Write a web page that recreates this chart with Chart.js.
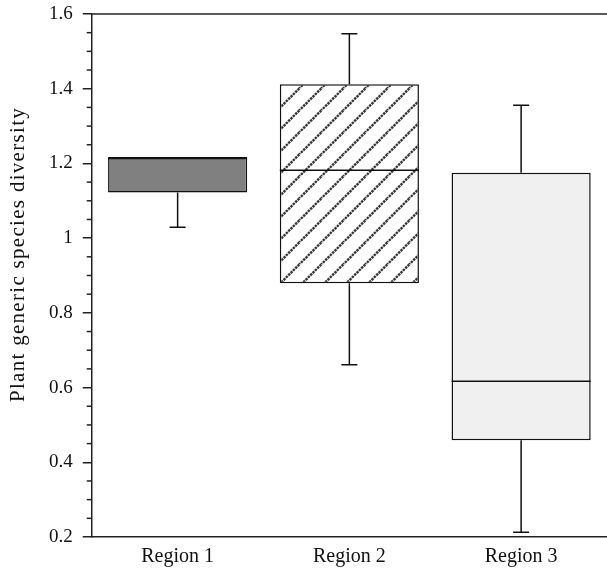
<!DOCTYPE html>
<html>
<head>
<meta charset="utf-8">
<script src="https://cdn.jsdelivr.net/npm/chart.js@4.4.1/dist/chart.umd.min.js"></script>
<style>
  html, body { margin: 0; padding: 0; background: #fff; }
  #wrap { width: 607px; height: 571px; }
</style>
</head>
<body>
<div id="wrap"><canvas id="chart1"></canvas></div>
<script>
(function() {

  // box plot values
  const regions = ['Region 1', 'Region 2', 'Region 3']
  const whiskerLow = [1.029, 0.661, 0.213]
  const q1 = [1.122, 0.879, 0.459]
  const median = [1.213, 1.182, 0.617]
  const q3 = [1.217, 1.412, 1.175]
  const whiskerHigh = [1.217, 1.547, 1.356]

  const yMin = 0.2, yMax = 1.6, yStep = 0.2, yMinor = 0.05
  const yTitle = 'Plant generic species diversity'
  const serif = '"Liberation Serif", "DejaVu Serif", serif'

  // diagonal hatch for the middle box
  const P = 22
  const tile = document.createElement('canvas')
  tile.width = P
  tile.height = P
  const tc = tile.getContext('2d')
  tc.fillStyle = '#fff'
  tc.fillRect(0, 0, P, P)
  tc.strokeStyle = '#363636'
  tc.lineWidth = 2.4
  tc.setLineDash([2.5, 0.8])
  tc.beginPath()
  ;[13.7 - P, 13.7, 13.7 + P].forEach(c => {
    tc.moveTo(c + 30, -30)
    tc.lineTo(-30, c + 30)
  })
  tc.stroke()
  const hatch = tc.createPattern(tile, 'repeat')

  const boxes = regions.map((r, i) => [q1[i], q3[i]])

  const boxPlotExtras = {
    id: 'boxPlotExtras',
    afterDatasetsDraw(chart) {
      const ctx = chart.ctx
      const y = chart.scales.y
      const meta = chart.getDatasetMeta(0)
      ctx.save()
      ctx.strokeStyle = '#111'
      ctx.lineWidth = 1.5
      meta.data.forEach((bar, i) => {
        const x = bar.x
        const half = bar.width / 2
        // median
        ctx.beginPath()
        ctx.moveTo(x - half, y.getPixelForValue(median[i]))
        ctx.lineTo(x + half, y.getPixelForValue(median[i]))
        ctx.stroke()
        // whiskers
        const pairs = [[q1[i], whiskerLow[i]], [q3[i], whiskerHigh[i]]]
        pairs.forEach(p => {
          if (p[0] === p[1]) return
          const a = y.getPixelForValue(p[0])
          const b = y.getPixelForValue(p[1])
          ctx.beginPath()
          ctx.moveTo(x, a)
          ctx.lineTo(x, b)
          ctx.moveTo(x - 8, b)
          ctx.lineTo(x + 8, b)
          ctx.stroke()
        })
      })
      ctx.restore()
    },
    afterDraw(chart) {
      const ctx = chart.ctx
      const area = chart.chartArea
      const y = chart.scales.y
      ctx.save()
      ctx.strokeStyle = '#222'
      ctx.lineWidth = 1.5
      // top frame line
      ctx.beginPath()
      ctx.moveTo(area.left, area.top)
      ctx.lineTo(area.right, area.top)
      ctx.stroke()
      // minor ticks
      for (let v = yMin + yMinor; v < yMax - 1e-6; v += yMinor) {
        const k = Math.round(v / yMinor)
        if (k % 4 === 0) continue
        const py = y.getPixelForValue(v)
        ctx.beginPath()
        ctx.moveTo(area.left - 5, py)
        ctx.lineTo(area.left, py)
        ctx.stroke()
      }
      // y axis title
      ctx.fillStyle = '#111'
      ctx.font = '21px ' + serif
      ctx.letterSpacing = '1.3px'
      ctx.textAlign = 'center'
      ctx.textBaseline = 'alphabetic'
      ctx.translate(24, (area.top + area.bottom) / 2 - 21)
      ctx.rotate(-Math.PI / 2)
      ctx.fillText(yTitle, 0, 0)
      ctx.restore()
    }
  }

  new Chart(document.getElementById('chart1'), {
    type: 'bar',
    data: {
      labels: regions,
      datasets: [{
        data: boxes,
        backgroundColor: ['#808080', hatch, '#eff0ef'],
        borderColor: '#111',
        borderWidth: 1.5,
        borderSkipped: false,
        barPercentage: 0.81,
        categoryPercentage: 1
      }]
    },
    options: {
      responsive: true,
      maintainAspectRatio: false,
      animation: false,
      layout: { padding: { left: 39, top: 0, right: 0, bottom: -6 } },
      plugins: { legend: { display: false }, tooltip: { enabled: false } },
      scales: {
        x: {
          grid: { display: false, drawTicks: false },
          border: { display: true, color: '#222', width: 1.5 },
          ticks: { color: '#111', font: { family: serif, size: 20 }, padding: 8 }
        },
        y: {
          min: yMin,
          max: yMax,
          afterFit: s => { s.paddingTop = 14 },
          grid: { drawOnChartArea: false, drawTicks: true, tickLength: 9, color: '#222', lineWidth: 1.5 },
          border: { display: true, color: '#222', width: 1.5 },
          ticks: {
            stepSize: yStep,
            padding: 10,
            color: '#111',
            font: { family: serif, size: 19 },
            callback: v => Math.abs(v - 1) < 1e-6 ? '1' : v.toFixed(1)
          }
        }
      }
    },
    plugins: [boxPlotExtras]
  })

})();
</script>
</body>
</html>
